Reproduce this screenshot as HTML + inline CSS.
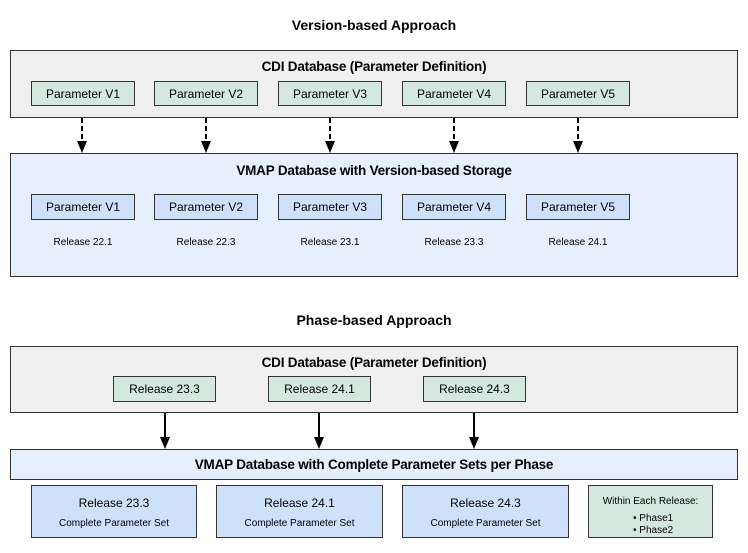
<!DOCTYPE html>
<html><head><style>
body{margin:0;width:748px;height:553px;background:#fff;font-family:"Liberation Sans",Arial,sans-serif;position:relative;overflow:hidden}
div{position:absolute;box-sizing:border-box}
.t{font-weight:bold;font-size:14px;text-align:center;width:748px;left:0}
.big{border:1px solid #333}
.g{background:#f0f0f0}
.lb{background:#e6f0fd}
.p{border:1px solid #333;font-size:12px;text-align:center;display:flex;align-items:center;justify-content:center}
.gr{background:#d5e8e0}
.bl{background:#cfe0fb}
.h{font-weight:bold;font-size:13.5px;text-align:center;width:100%;left:0;letter-spacing:-0.2px}
.r{font-size:10px;width:104px;text-align:center}
</style></head><body>
<div class="t" style="top:17px">Version-based Approach</div>
<div class="big g" style="left:10px;top:50px;width:728px;height:68px"><div class="h" style="top:8px">CDI Database (Parameter Definition)</div></div>
<div class="p gr" style="left:31px;top:81px;width:104px;height:25px">Parameter V1</div>
<div class="p gr" style="left:154px;top:81px;width:104px;height:25px">Parameter V2</div>
<div class="p gr" style="left:278px;top:81px;width:104px;height:25px">Parameter V3</div>
<div class="p gr" style="left:402px;top:81px;width:104px;height:25px">Parameter V4</div>
<div class="p gr" style="left:526px;top:81px;width:104px;height:25px">Parameter V5</div>
<div class="big lb" style="left:10px;top:153px;width:728px;height:124px"><div class="h" style="top:9px">VMAP Database with Version-based Storage</div></div>
<div class="p bl" style="left:31px;top:194px;width:104px;height:26px">Parameter V1</div>
<div class="p bl" style="left:154px;top:194px;width:104px;height:26px">Parameter V2</div>
<div class="p bl" style="left:278px;top:194px;width:104px;height:26px">Parameter V3</div>
<div class="p bl" style="left:402px;top:194px;width:104px;height:26px">Parameter V4</div>
<div class="p bl" style="left:526px;top:194px;width:104px;height:26px">Parameter V5</div>
<div class="r" style="left:31px;top:237px">Release 22.1</div>
<div class="r" style="left:154px;top:237px">Release 22.3</div>
<div class="r" style="left:278px;top:237px">Release 23.1</div>
<div class="r" style="left:402px;top:237px">Release 23.3</div>
<div class="r" style="left:526px;top:237px">Release 24.1</div>

<div class="t" style="top:312px">Phase-based Approach</div>
<div class="big g" style="left:10px;top:346px;width:728px;height:67px"><div class="h" style="top:8px">CDI Database (Parameter Definition)</div></div>
<div class="p gr" style="left:113px;top:376px;width:103px;height:26px">Release 23.3</div>
<div class="p gr" style="left:268px;top:376px;width:103px;height:26px">Release 24.1</div>
<div class="p gr" style="left:423px;top:376px;width:103px;height:26px">Release 24.3</div>
<div class="big lb" style="left:10px;top:449px;width:728px;height:31px"><div class="h" style="top:7px">VMAP Database with Complete Parameter Sets per Phase</div></div>
<div class="big bl" style="left:31px;top:485px;width:166px;height:53px"><div style="width:100%;text-align:center;top:10px;font-size:12px">Release 23.3</div><div style="width:100%;text-align:center;top:32px;font-size:10px">Complete Parameter Set</div></div>
<div class="big bl" style="left:216px;top:485px;width:167px;height:53px"><div style="width:100%;text-align:center;top:10px;font-size:12px">Release 24.1</div><div style="width:100%;text-align:center;top:32px;font-size:10px">Complete Parameter Set</div></div>
<div class="big bl" style="left:402px;top:485px;width:167px;height:53px"><div style="width:100%;text-align:center;top:10px;font-size:12px">Release 24.3</div><div style="width:100%;text-align:center;top:32px;font-size:10px">Complete Parameter Set</div></div>
<div class="big gr" style="left:588px;top:485px;width:125px;height:53px;font-size:10px"><div style="width:100%;text-align:center;top:10px">Within Each Release:</div><div style="left:44px;top:27px">• Phase1</div><div style="left:44px;top:39px">• Phase2</div></div>

<svg width="748" height="553" style="position:absolute;left:0;top:0">
<g stroke="#000" stroke-width="2" stroke-dasharray="5,3">
<line x1="82" y1="118" x2="82" y2="142"/><line x1="206" y1="118" x2="206" y2="142"/><line x1="330" y1="118" x2="330" y2="142"/><line x1="454" y1="118" x2="454" y2="142"/><line x1="578" y1="118" x2="578" y2="142"/>
</g>
<g fill="#000">
<polygon points="77,141 87,141 82,153"/><polygon points="201,141 211,141 206,153"/><polygon points="325,141 335,141 330,153"/><polygon points="449,141 459,141 454,153"/><polygon points="573,141 583,141 578,153"/>
<polygon points="160,437 170,437 165,449"/><polygon points="314,437 324,437 319,449"/><polygon points="469,437 479,437 474,449"/>
</g>
<g stroke="#000" stroke-width="2">
<line x1="165" y1="413" x2="165" y2="438"/><line x1="319" y1="413" x2="319" y2="438"/><line x1="474" y1="413" x2="474" y2="438"/>
</g>
</svg>
</body></html>
